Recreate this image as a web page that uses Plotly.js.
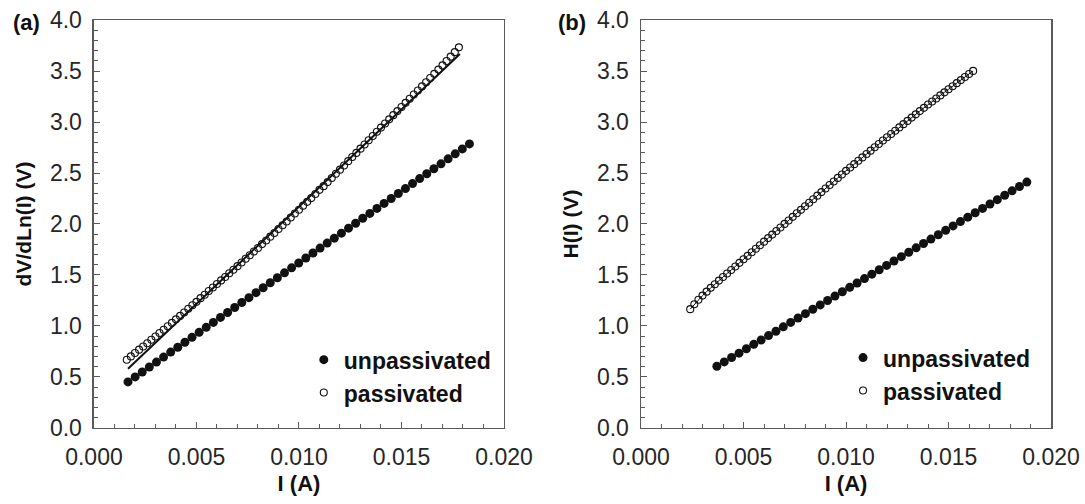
<!DOCTYPE html>
<html>
<head>
<meta charset="utf-8">
<script src="https://cdn.plot.ly/plotly-3.0.1.min.js"></script>
<style>
html,body{margin:0;padding:0;background:#fff;}
#chart{width:1085px;height:504px;}
</style>
</head>
<body>
<div id="chart"></div>
<script>
// ---------- Panel (a): dV/dLn(I) vs I ----------
const aUnpassI = [0.00166,0.002007,0.002354,0.002701,0.003048,0.003395,0.003742,0.004089,0.004436,0.004783,
  0.00513,0.005477,0.005824,0.006171,0.006518,0.006865,0.007212,0.007559,0.007906,0.008253,
  0.0086,0.008947,0.009294,0.009641,0.009988,0.010335,0.010682,0.011029,0.011376,0.011723,
  0.01207,0.012417,0.012764,0.013111,0.013458,0.013805,0.014152,0.014499,0.014846,0.015193,
  0.01554,0.015887,0.016234,0.016581,0.016928,0.017275,0.017622,0.017969,0.018316];
const aUnpassV = [0.452,0.501,0.549,0.598,0.646,0.695,0.744,0.792,0.841,0.889,
  0.938,0.987,1.035,1.084,1.132,1.181,1.230,1.278,1.327,1.375,
  1.424,1.473,1.521,1.570,1.618,1.667,1.716,1.764,1.813,1.861,
  1.910,1.959,2.007,2.056,2.104,2.153,2.202,2.250,2.299,2.347,
  2.396,2.445,2.493,2.542,2.590,2.639,2.688,2.736,2.785];

const aPassI = [0.0016,0.0018,0.0020,0.0022,0.0024,0.0026,0.0028,0.0030,0.0032,0.0034,
  0.0036,0.0038,0.0040,0.0042,0.0044,0.0046,0.0048,0.0050,0.0052,0.0054,
  0.0056,0.0058,0.0060,0.0062,0.0064,0.0066,0.0068,0.0070,0.0072,0.0074,
  0.0076,0.0078,0.0080,0.0082,0.0084,0.0086,0.0088,0.0090,0.0092,0.0094,
  0.0096,0.0098,0.0100,0.0102,0.0104,0.0106,0.0108,0.0110,0.0112,0.0114,
  0.0116,0.0118,0.0120,0.0122,0.0124,0.0126,0.0128,0.0130,0.0132,0.0134,
  0.0136,0.0138,0.0140,0.0142,0.0144,0.0146,0.0148,0.0150,0.0152,0.0154,
  0.0156,0.0158,0.0160,0.0162,0.0164,0.0166,0.0168,0.0170,0.0172,0.0174,
  0.0176,0.0178];
const aPassV = [0.669,0.702,0.735,0.768,0.799,0.831,0.865,0.897,0.931,0.963,
  0.997,1.031,1.065,1.099,1.133,1.169,1.203,1.237,1.273,1.307,
  1.343,1.377,1.412,1.447,1.481,1.517,1.552,1.587,1.623,1.659,
  1.694,1.730,1.765,1.803,1.839,1.876,1.912,1.951,1.988,2.025,
  2.064,2.103,2.140,2.180,2.217,2.254,2.294,2.335,2.371,2.411,
  2.451,2.492,2.533,2.573,2.616,2.657,2.697,2.739,2.779,2.821,
  2.863,2.905,2.945,2.986,3.026,3.067,3.107,3.147,3.188,3.228,
  3.269,3.309,3.349,3.390,3.431,3.472,3.514,3.555,3.598,3.641,
  3.685,3.732];

const aFitI = [0.00166,0.01785];
const aFitV = [0.58,3.666];

// ---------- Panel (b): H(I) vs I ----------
const bUnpassI = [0.0037,0.00406,0.00442,0.00478,0.00514,0.0055,0.00586,0.00622,0.00658,0.00694,
  0.0073,0.00766,0.00802,0.00838,0.00874,0.0091,0.00946,0.00982,0.01018,0.01054,
  0.0109,0.01126,0.01162,0.01198,0.01234,0.0127,0.01306,0.01342,0.01378,0.01414,
  0.0145,0.01486,0.01522,0.01558,0.01594,0.0163,0.01666,0.01702,0.01738,0.01774,
  0.0181,0.01846,0.01882];
const bUnpassH = [0.605,0.648,0.691,0.734,0.777,0.820,0.863,0.906,0.949,0.992,
  1.035,1.078,1.121,1.164,1.207,1.250,1.293,1.336,1.379,1.422,
  1.465,1.508,1.551,1.594,1.637,1.680,1.723,1.766,1.809,1.852,
  1.895,1.938,1.981,2.024,2.067,2.110,2.153,2.196,2.239,2.282,
  2.325,2.368,2.411];

const bPassI = [0.0024,0.0026,0.0028,0.0030,0.0032,0.0034,0.0036,0.0038,0.0040,0.0042,
  0.0044,0.0046,0.0048,0.0050,0.0052,0.0054,0.0056,0.0058,0.0060,0.0062,
  0.0064,0.0066,0.0068,0.0070,0.0072,0.0074,0.0076,0.0078,0.0080,0.0082,
  0.0084,0.0086,0.0088,0.0090,0.0092,0.0094,0.0096,0.0098,0.0100,0.0102,
  0.0104,0.0106,0.0108,0.0110,0.0112,0.0114,0.0116,0.0118,0.0120,0.0122,
  0.0124,0.0126,0.0128,0.0130,0.0132,0.0134,0.0136,0.0138,0.0140,0.0142,
  0.0144,0.0146,0.0148,0.0150,0.0152,0.0154,0.0156,0.0158,0.0160,0.0162];
const bPassH = [1.165,1.213,1.257,1.298,1.337,1.374,1.410,1.445,1.480,1.515,
  1.549,1.584,1.619,1.654,1.688,1.723,1.758,1.792,1.827,1.862,
  1.896,1.931,1.966,2.001,2.035,2.070,2.105,2.139,2.174,2.209,
  2.243,2.278,2.313,2.348,2.382,2.417,2.452,2.486,2.521,2.554,
  2.587,2.620,2.653,2.686,2.719,2.752,2.785,2.818,2.851,2.883,
  2.915,2.947,2.979,3.011,3.043,3.075,3.107,3.139,3.171,3.201,
  3.231,3.261,3.291,3.321,3.351,3.381,3.411,3.441,3.471,3.501];

const seriesNames = ['unpassivated','passivated'];
const xTitle = 'I (A)';
const yTitleA = 'dV/dLn(I) (V)';
const yTitleB = 'H(I) (V)';
const panelLabels = ['(a)','(b)'];

const FONT = 'Liberation Sans, Arial, Helvetica, sans-serif';
const INK = '#111';
const AX = '#5a5a5a';

const filled = {symbol:'circle', size:9, color:INK, line:{width:0}};
const open = {symbol:'circle-open', size:7, color:INK, line:{width:1.1, color:INK}};

const traces = [
  {x:aUnpassI, y:aUnpassV, type:'scatter', mode:'markers', name:seriesNames[0], marker:filled, xaxis:'x', yaxis:'y', legend:'legend'},
  {x:aPassI, y:aPassV, type:'scatter', mode:'markers', name:seriesNames[1], marker:open, xaxis:'x', yaxis:'y', legend:'legend'},
  {x:aFitI, y:aFitV, type:'scatter', mode:'lines', line:{color:INK, width:2}, showlegend:false, xaxis:'x', yaxis:'y'},
  {x:bUnpassI, y:bUnpassH, type:'scatter', mode:'markers', name:seriesNames[0], marker:filled, xaxis:'x2', yaxis:'y2', legend:'legend2'},
  {x:bPassI, y:bPassH, type:'scatter', mode:'markers', name:seriesNames[1], marker:open, xaxis:'x2', yaxis:'y2', legend:'legend2'},
  {x:bPassI, y:bPassH, type:'scatter', mode:'lines', line:{color:INK, width:1}, showlegend:false, xaxis:'x2', yaxis:'y2'}
];

function xAxis(domain, anchor){
  return {
    domain:domain, anchor:anchor, range:[0,0.02], dtick:0.005, tick0:0, tickformat:'.3f',
    ticks:'inside', ticklen:6, tickwidth:1, tickcolor:AX,
    showline:true, linecolor:AX, linewidth:1.5, mirror:true,
    showgrid:false, zeroline:false,
    minor:{dtick:0.001, ticks:'inside', ticklen:4, tickcolor:AX, tickwidth:1, showgrid:false},
    tickfont:{family:FONT, size:23, color:'#262626'}, ticklabelstandoff:8,
    title:{text:xTitle, font:{family:FONT, size:22, color:'#111', weight:'bold'}, standoff:6},
    fixedrange:true
  };
}
function yAxis(domain, anchor, title){
  return {
    domain:domain, anchor:anchor, range:[0,4], dtick:0.5, tick0:0, tickformat:'.1f',
    ticks:'inside', ticklen:6, tickwidth:1, tickcolor:AX,
    showline:true, linecolor:AX, linewidth:1.5, mirror:true,
    showgrid:false, zeroline:false,
    minor:{dtick:0.1, ticks:'inside', ticklen:4, tickcolor:AX, tickwidth:1, showgrid:false},
    tickfont:{family:FONT, size:23, color:'#262626'}, ticklabelstandoff:6,
    title:{text:title, font:{family:FONT, size:21, color:'#111', weight:'bold'}, standoff:12},
    fixedrange:true
  };
}

const yDom = [0.1508, 0.9603];
const legendFont = {family:FONT, size:23, color:'#111', weight:'bold'};

const layout = {
  width:1085, height:504,
  margin:{l:0, r:0, t:0, b:0},
  paper_bgcolor:'#fff', plot_bgcolor:'#fff',
  showlegend:true,
  xaxis: xAxis([0.0866, 0.4645], 'y'),
  yaxis: yAxis(yDom, 'x', yTitleA),
  xaxis2: xAxis([0.5908, 0.9687], 'y2'),
  yaxis2: yAxis(yDom, 'x2', yTitleB),
  legend:{x:0.280, y:0.329, xanchor:'left', yanchor:'top', font:legendFont, bgcolor:'rgba(0,0,0,0)', borderwidth:0, tracegroupgap:0, itemwidth:30},
  legend2:{x:0.777, y:0.333, xanchor:'left', yanchor:'top', font:legendFont, bgcolor:'rgba(0,0,0,0)', borderwidth:0, tracegroupgap:0, itemwidth:30},
  annotations:[
    {text:panelLabels[0], xref:'paper', yref:'paper', x:0.010, y:(504-23)/504, xanchor:'left', yanchor:'middle', showarrow:false, font:{family:FONT, size:22, color:'#111', weight:'bold'}},
    {text:panelLabels[1], xref:'paper', yref:'paper', x:0.512, y:(504-23)/504, xanchor:'left', yanchor:'middle', showarrow:false, font:{family:FONT, size:22, color:'#111', weight:'bold'}}
  ]
};

Plotly.newPlot('chart', traces, layout, {displayModeBar:false, staticPlot:true});
</script>
</body>
</html>
